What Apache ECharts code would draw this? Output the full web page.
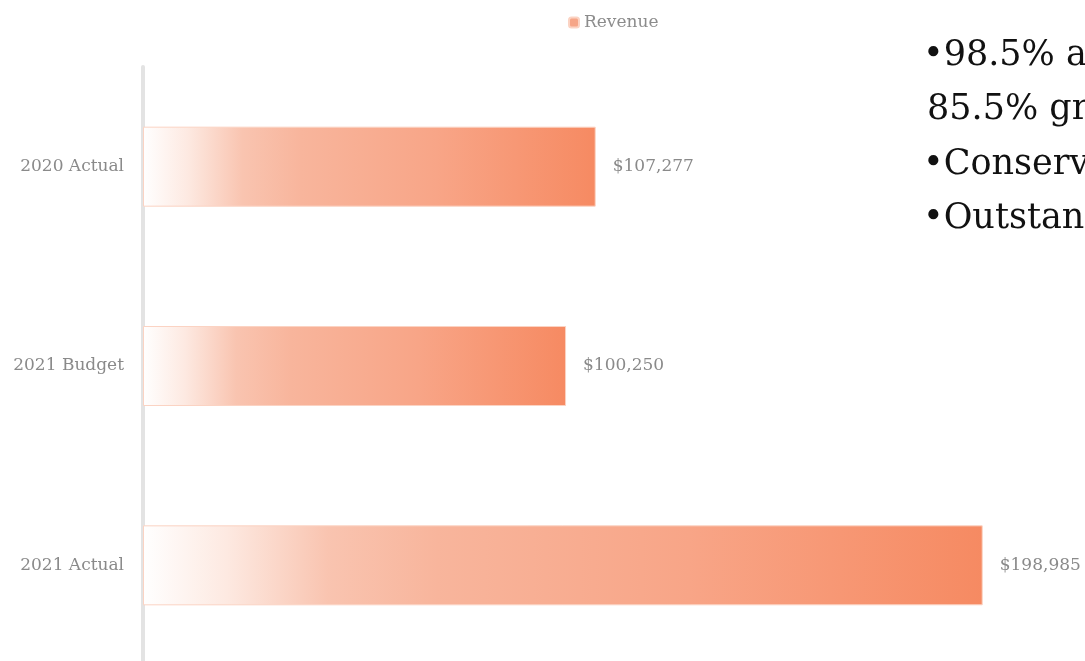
<!DOCTYPE html>
<html>
<head>
<meta charset="utf-8">
<script src="https://cdn.jsdelivr.net/npm/echarts@6/dist/echarts.min.js"></script>
<style>
html, body { margin: 0; padding: 0; background: #fff; }
#chart { width: 1085px; height: 661px; }
</style>
</head>
<body>
<div id="chart"></div>
<script>
const categories = ['2020 Actual', '2021 Budget', '2021 Actual']
const revenue = [107277, 100250, 198985]
const notes = ['•98.5% above budget and', '85.5% growth over 2020', '•Conservative budget', '•Outstanding receivables']

const chart = echarts.init(document.getElementById('chart'))

// gradient goes white -> coral along each bar
const barGradient = new echarts.graphic.LinearGradient(0, 0, 1, 0, [
    { offset: 0, color: '#ffffff' },
    { offset: 0.1, color: '#fde9e1' },
    { offset: 0.22, color: '#f9c4b0' },
    { offset: 0.35, color: '#f8b59c' },
    { offset: 0.65, color: '#f8a587' },
    { offset: 1, color: '#f68a62' },
])

chart.setOption({
    animation: false,
    legend: {
        top: 9,
        left: 563,
        itemWidth: 10,
        itemHeight: 10,
        itemGap: 5,
        textStyle: { fontFamily: 'DejaVu Serif', fontSize: 17, color: '#8c8c8c' },
        data: [{ name: 'Revenue', itemStyle: { color: '#f6a587' } }],
    },
    grid: { left: 143, top: 67, width: 844, height: 598, outerBoundsMode: 'none' },
    xAxis: {
        type: 'value',
        min: 0,
        max: 200000,
        show: false,
    },
    yAxis: {
        type: 'category',
        inverse: true,
        data: categories,
        axisLine: { show: true, lineStyle: { color: '#e3e3e3', width: 4 } },
        axisTick: { show: false },
        axisLabel: {
            margin: 19,
            fontFamily: 'DejaVu Serif',
            fontSize: 17,
            color: '#8a8a8a',
        },
    },
    series: [
        {
            name: 'Revenue',
            type: 'bar',
            data: revenue,
            barWidth: 80,
            itemStyle: { color: barGradient, borderColor: '#fbd3c3', borderWidth: 1 },
            label: {
                show: true,
                position: 'right',
                distance: 17,
                fontFamily: 'DejaVu Serif',
                fontSize: 17,
                color: '#8a8a8a',
                formatter: (p) => '$' + p.value.toLocaleString('en-US'),
            },
        },
    ],
    graphic: notes.map((t, i) => ({
        type: 'text',
        left: i === 1 ? 927 : 923,
        top: 38 + i * 54.5,
        style: {
            text: t,
            font: '35px "DejaVu Serif"',
            fill: '#111',
        },
    })),
})
</script>
</body>
</html>
